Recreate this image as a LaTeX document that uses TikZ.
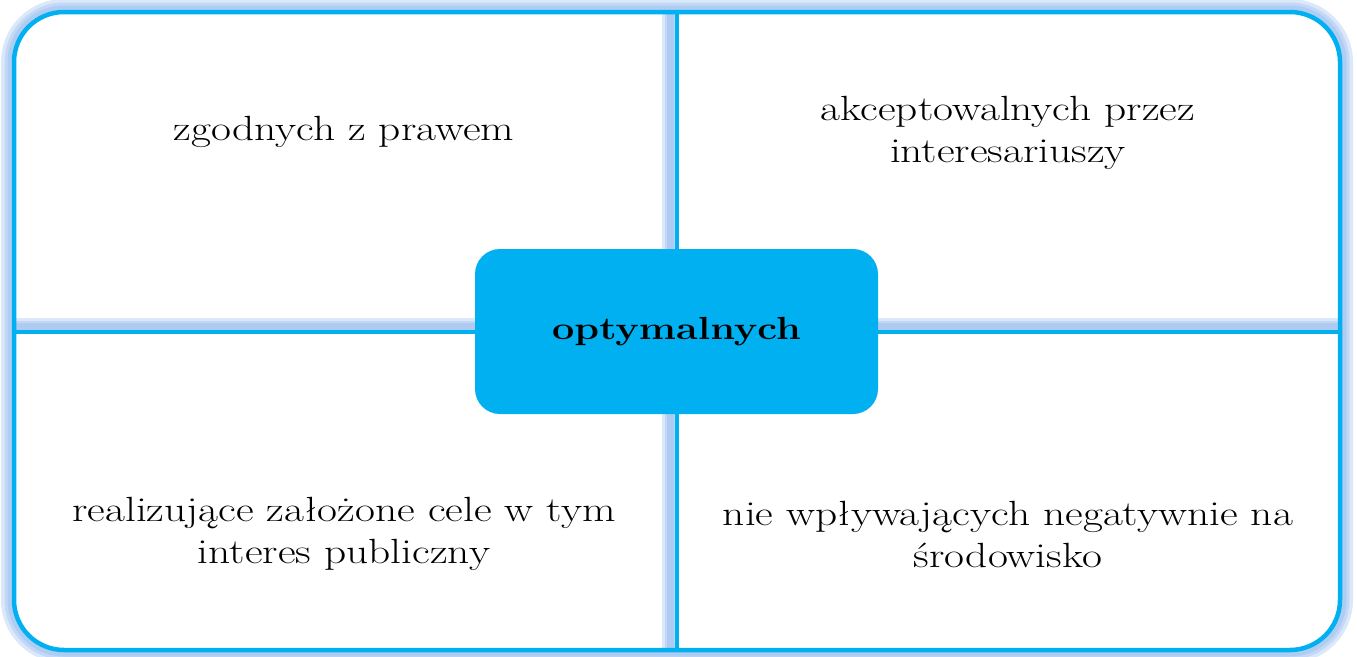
\documentclass[tikz,border=0pt]{standalone}
\usepackage{fontspec}
\setmainfont{Latin Modern Roman}[FakeStretch=1.24]
\definecolor{mainblue}{HTML}{00B0F0}
\definecolor{glowblue}{HTML}{7FAEEC}
\tikzset{
  glow/.style={draw=glowblue, line width=#1, opacity=0.28},
  frame/.style={draw=mainblue, line width=4.5pt},
  label/.style={align=center, font=\fontsize{35}{42}\selectfont, text=black},
}
\begin{document}
\begin{tikzpicture}[x=1pt,y=-1pt]
\useasboundingbox (0,0) rectangle (1357,656);
% outer glow
\foreach \w in {22,15,9}{
  \draw[glow=\w, rounded corners=52pt] (12,10) rectangle (1342,652);
}
\fill[white, rounded corners=50pt] (14,12) rectangle (1340,650);
% divider glow
\foreach \w in {16,11,7}{
  \draw[glow=\w] (670,12) -- (670,650);
  \draw[glow=\w] (14,326) -- (1340,326);
}
% frame and dividers
\coordinate (vt) at (677,12);
\coordinate (vb) at (677,650);
\coordinate (hl) at (14,332);
\coordinate (hr) at (1340,332);
\draw[frame] (vt) -- (vb);
\draw[frame] (hl) -- (hr);
\draw[frame, rounded corners=50pt] (14,12) rectangle (1340,650);
% centre
\node[draw=none, fill=mainblue, rounded corners=25pt, minimum width=403pt, minimum height=165pt, font=\fontsize{32}{42}\selectfont\bfseries] (c) at (676.5,331.5) {optymalnych};
% texts
\node[label] (tl) at (344,132) {zgodnych z prawem};
\node[label] (tr) at (1008,133) {akceptowalnych przez\\interesariuszy};
\node[label] (bl) at (344,534) {realizujące założone cele w tym\\interes publiczny};
\node[label] (br) at (1008,534) {nie wpływających negatywnie na\\środowisko};
\end{tikzpicture}
\end{document}
